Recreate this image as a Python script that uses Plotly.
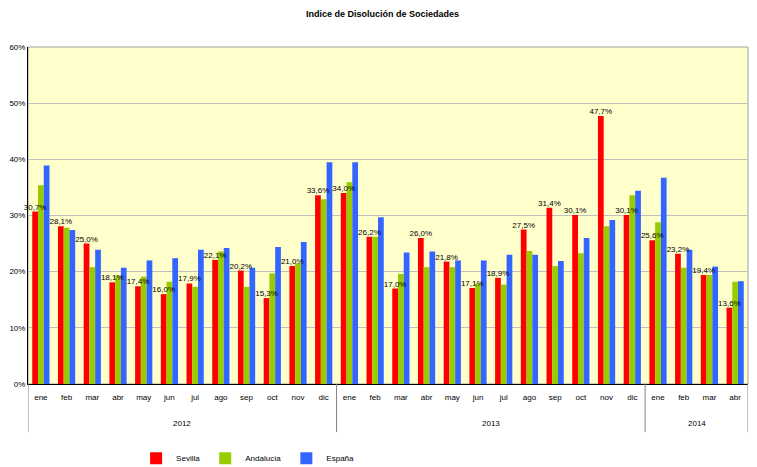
import plotly.graph_objects as go

months = ["ene", "feb", "mar", "abr", "may", "jun", "jul", "ago", "sep", "oct", "nov", "dic",
          "ene", "feb", "mar", "abr", "may", "jun", "jul", "ago", "sep", "oct", "nov", "dic",
          "ene", "feb", "mar", "abr"]
years = ["2012"] * 12 + ["2013"] * 12 + ["2014"] * 4

sevilla = [30.7, 28.1, 25.0, 18.1, 17.4, 16.0, 17.9, 22.1, 20.2, 15.3, 21.0, 33.6,
           34.0, 26.2, 17.0, 26.0, 21.8, 17.1, 18.9, 27.5, 31.4, 30.1, 47.7, 30.1,
           25.6, 23.2, 19.4, 13.6]
andalucia = [35.4, 27.8, 20.8, 19.3, 19.1, 18.2, 17.3, 23.6, 17.3, 19.7, 21.5, 32.9,
             35.9, 26.2, 19.6, 20.8, 20.8, 17.9, 17.7, 23.7, 21.0, 23.3, 28.1, 33.6,
             28.8, 20.7, 19.4, 18.2]
espana = [38.9, 27.4, 23.9, 20.7, 22.0, 22.4, 23.9, 24.2, 20.7, 24.4, 25.3, 39.5,
          39.5, 29.7, 23.4, 23.6, 22.0, 22.0, 23.0, 23.0, 21.9, 26.0, 29.2, 34.4,
          36.7, 23.9, 20.9, 18.3]

FONT = "Liberation Sans, Arial, sans-serif"
idx = list(range(len(months)))

fig = go.Figure()
fig.add_trace(go.Bar(x=idx, y=sevilla, name="Sevilla", offsetgroup="s",
                     marker=dict(color="#FF0000", line=dict(width=0))))
fig.add_trace(go.Bar(x=idx, y=andalucia, name="Andalucía", offsetgroup="a",
                     marker=dict(color="#99CC00", line=dict(width=0))))
fig.add_trace(go.Bar(x=idx, y=espana, name="España", offsetgroup="e",
                     marker=dict(color="#3366FF", line=dict(width=0))))
# data labels for Sevilla, drawn on top of all bars
fig.add_trace(go.Bar(
    x=idx, y=sevilla, offsetgroup="s", showlegend=False, hoverinfo="skip",
    marker=dict(color="rgba(0,0,0,0)", line=dict(width=0)),
    text=[f"{v:.1f}%".replace(".", ",") for v in sevilla],
    textposition="outside", constraintext="none", cliponaxis=False,
    textfont=dict(family=FONT, size=8, color="#000000"),
))

# the page body adds an 8px margin, so the figure is 8px smaller than the window
fig.update_layout(
    width=749, height=459,
    margin=dict(l=20, r=9, t=39, b=83, autoexpand=False),
    paper_bgcolor="#FFFFFF", plot_bgcolor="#FFFFCC",
    barmode="group", bargap=0.33, bargroupgap=0,
    font=dict(family=FONT, size=8, color="#000000"),
    title=dict(text="<b>Indice de Disolución de Sociedades</b>", x=0.5, xanchor="center",
               y=0.994, yanchor="top", pad=dict(t=0),
               font=dict(family=FONT, size=9, color="#000000")),
    showlegend=True,
    legend=dict(orientation="h", x=0.305, xanchor="center", y=-0.22, yanchor="middle",
                font=dict(family=FONT, size=8), itemwidth=30, traceorder="normal",
                bgcolor="rgba(0,0,0,0)"),
)
fig.update_yaxes(range=[0, 60], dtick=10, ticksuffix="%", showgrid=True,
                 gridcolor="#C0C0C0", gridwidth=1, showline=True, linecolor="#000000",
                 linewidth=1, ticks="", tickfont=dict(family=FONT, size=8), zeroline=False,
                 automargin=False)
fig.update_xaxes(range=[-0.5, len(months) - 0.5], tickmode="array", tickvals=idx,
                 ticktext=months, showline=True, linecolor="#000000", linewidth=1,
                 ticks="", ticklabelstandoff=5, tickfont=dict(family=FONT, size=8),
                 showgrid=False, zeroline=False, automargin=False)

# plot-area border (top and right)
fig.add_shape(type="rect", xref="paper", yref="paper", x0=0, x1=1, y0=0, y1=1,
              line=dict(color="#A0A0A0", width=1), fillcolor="rgba(0,0,0,0)", layer="below")

# year groups: dividers and centered labels, derived from the years list
groups = []
for i, yv in enumerate(years):
    if not groups or groups[-1][0] != yv:
        groups.append([yv, i, i])
    else:
        groups[-1][2] = i
bounds = [g[1] - 0.5 for g in groups] + [groups[-1][2] + 0.5]
for b in bounds:
    fig.add_shape(type="line", xref="x", yref="paper", x0=b, x1=b, y0=0, y1=-0.143,
                  line=dict(color="#808080", width=1))
for yv, a, b in groups:
    fig.add_annotation(x=(a + b) / 2, y=0, xref="x", yref="paper", text=yv,
                       showarrow=False, yanchor="middle", yshift=-39,
                       font=dict(family=FONT, size=8, color="#000000"))

fig.write_html("out.html")
